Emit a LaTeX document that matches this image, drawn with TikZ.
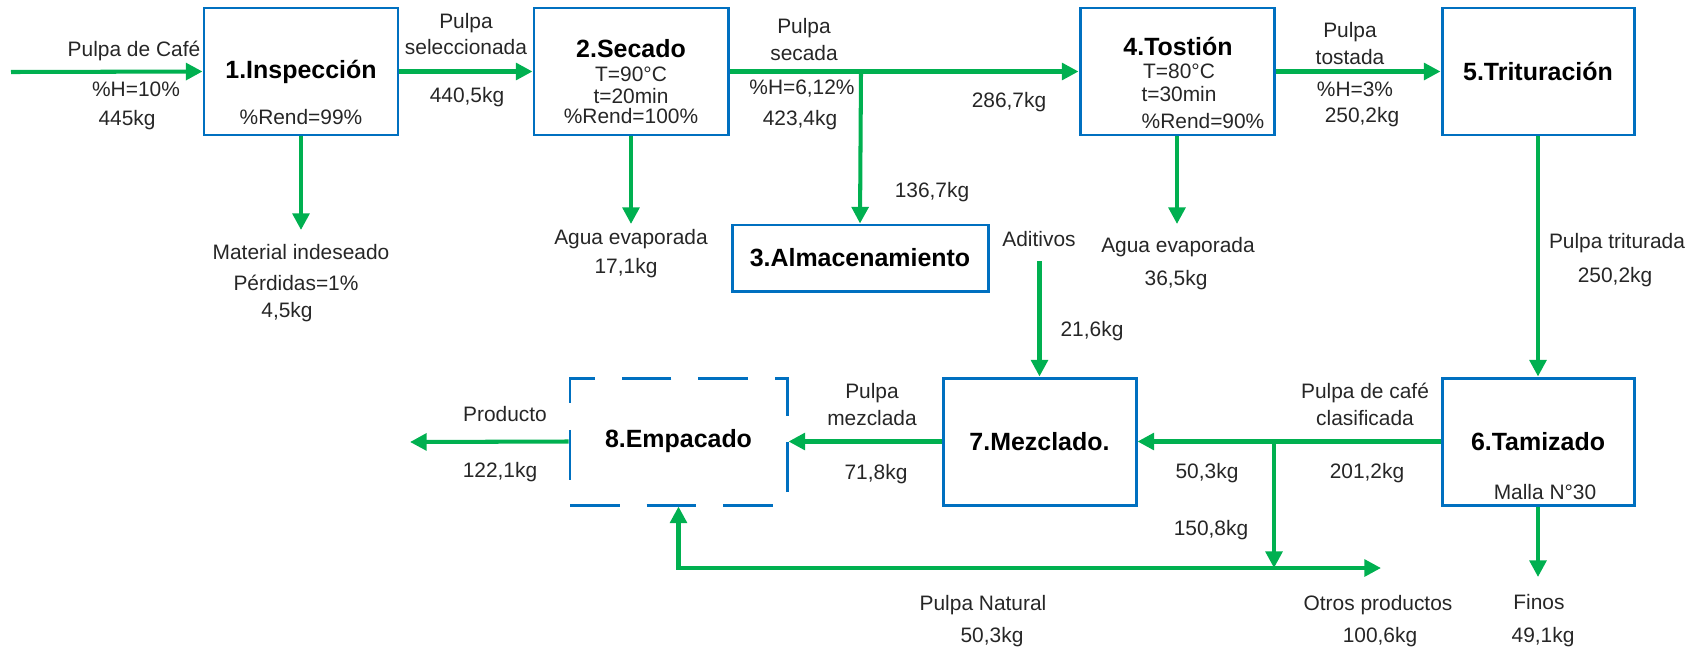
\documentclass[tikz,border=0pt]{standalone}
\usepackage{fontspec}
\setmainfont{Liberation Sans}
\usetikzlibrary{arrows.meta}
\definecolor{flowgreen}{RGB}{0,176,80}
\definecolor{procblue}{RGB}{0,112,192}
\tikzset{
  proc/.style={draw=procblue, line width=1.7pt, inner sep=0pt, font=\fontsize{14.2}{16}\selectfont\bfseries},
  flow/.style={draw=flowgreen, line width=2.3pt, -{Triangle[length=9.5pt,width=9.5pt]}},
  lbl/.style={inner sep=0pt, text=black!85, font=\fontsize{11.9}{13}\selectfont},
  ttl/.style={inner sep=0pt, font=\fontsize{14.2}{16}\selectfont\bfseries},
}
\newcommand{\lbl}[4]{\node[lbl] (#1) at (#2,#3) {#4};}
\newcommand{\procbox}[6]{\node[proc, minimum width=#4*0.02cm, minimum height=#5*0.02cm] (#1) at (#2,#3) {#6};}

\begin{document}
\begin{tikzpicture}[x=0.02cm, y=-0.02cm]
    \useasboundingbox (0,0) rectangle (1701,653);
    % process boxes
    \procbox{insp}{301}{71.5}{194}{127}{1.Inspección}
    \procbox{sec}{631}{71.5}{194}{127}{}
    \procbox{alm}{860}{258}{256}{66}{3.Almacenamiento}
    \procbox{tost}{1177}{71.5}{194}{127}{}
    \procbox{trit}{1538}{71.5}{192}{127}{5.Trituración}
    \procbox{tam}{1538}{441.5}{192}{127}{6.Tamizado}
    \procbox{mezc}{1039.5}{441.5}{193}{127}{7.Mezclado.}
    \node[proc, dash pattern=on 28.3pt off 15.3pt, minimum width=217*0.02cm, minimum height=127*0.02cm] (emp) at (678.5,441.5) {8.Empacado};
    % text inside boxes
    \lbl{rend1}{301}{117}{\%Rend=99\%}
    \node[ttl] (sect) at (631,49) {2.Secado};
    \lbl{sec1}{631}{74}{T=90°C}
    \lbl{sec2}{631}{96}{t=20min}
    \lbl{sec3}{631}{116}{\%Rend=100\%}
    \node[ttl] (tostt) at (1178,46) {4.Tostión};
    \lbl{tost1}{1179}{71}{T=80°C}
    \lbl{tost2}{1179}{94}{t=30min}
    \lbl{tost3}{1203}{121}{\%Rend=90\%}
    \lbl{malla}{1545}{492}{Malla N°30}
    % free ends and branch points
    \coordinate (cafe) at (11,72);
    \coordinate (mat) at (301,230);
    \coordinate (agua1) at (631,224);
    \coordinate (br1) at (861,72);
    \coordinate (agua2) at (1177,224);
    \coordinate (aditin) at (1039.5,261);
    \coordinate (finosin) at (1538,577);
    \coordinate (br2) at (1274,442);
    \coordinate (br3) at (1274,568);
    \coordinate (natc) at (678.5,568);
    \coordinate (otros) at (1381,568);
    \coordinate (prod) at (410,442);
    % row 1
    \draw[flow] (cafe) -- (insp.west);
    \draw[flow] (insp.south) -- (mat);
    \draw[flow] (insp.east) -- (sec.west);
    \draw[flow] (sec.south) -- (agua1);
    \draw[flow] (sec.east) -- (tost.west);
    \draw[flow] (br1) -- (alm.north);
    \draw[flow] (tost.south) -- (agua2);
    \draw[flow] (tost.east) -- (trit.west);
    \draw[flow] (trit.south) -- (tam.north);
    % row 2
    \draw[flow] (tam.south) -- (finosin);
    \draw[flow] (tam.west) -- (mezc.east);
    \draw[flow] (br2) -- (br3);
    \draw[flow] (br3) -- (otros);
    \draw[flow] (br3) -- (natc) -- (emp.south);
    \draw[flow] (aditin) -- (mezc.north);
    \draw[flow] (mezc.west) -- (emp.east);
    \draw[flow] (emp.west) -- (prod);
    % stream labels, row 1
    \lbl{l1}{134}{51}{Pulpa de Café}
    \lbl{l2}{136}{89}{\%H=10\%}
    \lbl{l3}{127}{120}{445kg}
    \lbl{l4}{301}{252}{Material indeseado}
    \lbl{l5}{296}{283}{Pérdidas=1\%}
    \lbl{l6}{287}{312}{4,5kg}
    \lbl{l7}{466}{23}{Pulpa}
    \lbl{l8}{466}{47}{seleccionada}
    \lbl{l9}{467}{97}{440,5kg}
    \lbl{l10}{631}{239}{Agua evaporada}
    \lbl{l11}{626}{268}{17,1kg}
    \lbl{l12}{804}{28}{Pulpa}
    \lbl{l13}{804}{53}{secada}
    \lbl{l14}{802}{89}{\%H=6,12\%}
    \lbl{l15}{800}{120}{423,4kg}
    \lbl{l16}{1009}{102}{286,7kg}
    \lbl{l17}{932}{192}{136,7kg}
    \lbl{l18}{1178}{247}{Agua evaporada}
    \lbl{l19}{1176}{280}{36,5kg}
    \lbl{l20}{1350}{32}{Pulpa}
    \lbl{l21}{1350}{57}{tostada}
    \lbl{l22}{1355}{89}{\%H=3\%}
    \lbl{l23}{1362}{117}{250,2kg}
    \lbl{l24}{1617}{243}{Pulpa triturada}
    \lbl{l25}{1615}{277}{250,2kg}
    % stream labels, row 2
    \lbl{l26}{1039}{239}{Aditivos}
    \lbl{l27}{1092}{331}{21,6kg}
    \lbl{l28}{1365}{393}{Pulpa de café}
    \lbl{l29}{1365}{418}{clasificada}
    \lbl{l30}{1367}{473}{201,2kg}
    \lbl{l31}{1207}{473}{50,3kg}
    \lbl{l32}{1211}{530}{150,8kg}
    \lbl{l33}{1539}{602}{Finos}
    \lbl{l34}{1543}{637}{49,1kg}
    \lbl{l35}{1378}{605}{Otros productos}
    \lbl{l36}{1380}{637}{100,6kg}
    \lbl{l37}{983}{605}{Pulpa Natural}
    \lbl{l38}{992}{637}{50,3kg}
    \lbl{l39}{872}{393}{Pulpa}
    \lbl{l40}{872}{418}{mezclada}
    \lbl{l41}{876}{474}{71,8kg}
    \lbl{l42}{505}{414}{Producto}
    \lbl{l43}{500}{472}{122,1kg}
\end{tikzpicture}
\end{document}
